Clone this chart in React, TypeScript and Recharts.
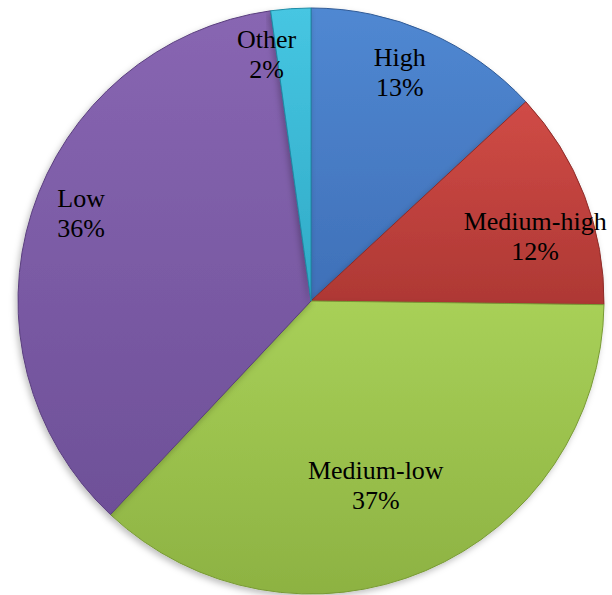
import React from "react";
import { PieChart, Pie, Cell } from "recharts";

const categories = ["High", "Medium-high", "Medium-low", "Low", "Other"];
const shares = [13.1, 12.1, 36.8, 35.8, 2.2];

const data = categories.map((name, i) => ({ name, value: shares[i] }));

const gradients = [
  { id: "gHigh", top: "#5088D2", bottom: "#3F70B8", stroke: "#2F5A96" },
  { id: "gMedHigh", top: "#D04B46", bottom: "#AE3834", stroke: "#8E2C29" },
  { id: "gMedLow", top: "#A8D058", bottom: "#8DB242", stroke: "#789A34" },
  { id: "gLow", top: "#8866B2", bottom: "#6E5098", stroke: "#5A3F7E" },
  { id: "gOther", top: "#46C6E2", bottom: "#30AAC6", stroke: "#1F8CA6" },
];

// label placement (relative radius, angle shift in degrees) per slice
const labelPlace = [
  { r: 0.858, shift: 2.9 },
  { r: 0.803, shift: -3.4 },
  { r: 0.645, shift: -3.0 },
  { r: 0.847, shift: -4.5 },
  { r: 0.877, shift: 6.0 },
];

const RAD = Math.PI / 180;
const FONT = '"Liberation Serif", "DejaVu Serif", serif';

const renderLabel = (props: any) => {
  const { cx, cy, midAngle, outerRadius, index, name, percent } = props;
  const p = labelPlace[index];
  const a = (midAngle + p.shift) * RAD;
  const r = outerRadius * p.r;
  const x = cx + r * Math.cos(a);
  const y = cy - r * Math.sin(a);
  return (
    <g key={`lbl-${index}`}>
      <text x={x} y={y} textAnchor="middle" fill="#000" fontSize={26} fontFamily={FONT}>
        {name}
      </text>
      <text x={x} y={y + 30} textAnchor="middle" fill="#000" fontSize={26} fontFamily={FONT}>
        {`${Math.round(percent * 100)}%`}
      </text>
    </g>
  );
};

export default function App() {
  return (
    <div style={{ position: "absolute", left: 0, top: 0, width: 612, height: 595, background: "#fff", fontFamily: FONT }}>
      <PieChart width={612} height={595} margin={{ top: 0, right: 0, bottom: 0, left: 0 }} style={{ fontFamily: FONT }}>
        <defs>
          {gradients.map((g) => (
            <linearGradient key={g.id} id={g.id} x1="0" y1="0" x2="0" y2="1">
              <stop offset="0%" stopColor={g.top} />
              <stop offset="100%" stopColor={g.bottom} />
            </linearGradient>
          ))}
          <filter id="shadow" x="-10%" y="-10%" width="120%" height="120%">
            <feDropShadow dx="-2" dy="3" stdDeviation="3" floodColor="#000" floodOpacity="0.25" />
          </filter>
        </defs>
        <Pie
          data={data}
          dataKey="value"
          nameKey="name"
          cx={311}
          cy={301}
          outerRadius={293}
          startAngle={90}
          endAngle={-270}
          isAnimationActive={false}
          label={renderLabel}
          labelLine={false}
          style={{ filter: "url(#shadow)" }}
        >
          {data.map((d, i) => (
            <Cell key={d.name} fill={`url(#${gradients[i].id})`} stroke={gradients[i].stroke} strokeWidth={1} />
          ))}
        </Pie>
      </PieChart>
    </div>
  );
}
